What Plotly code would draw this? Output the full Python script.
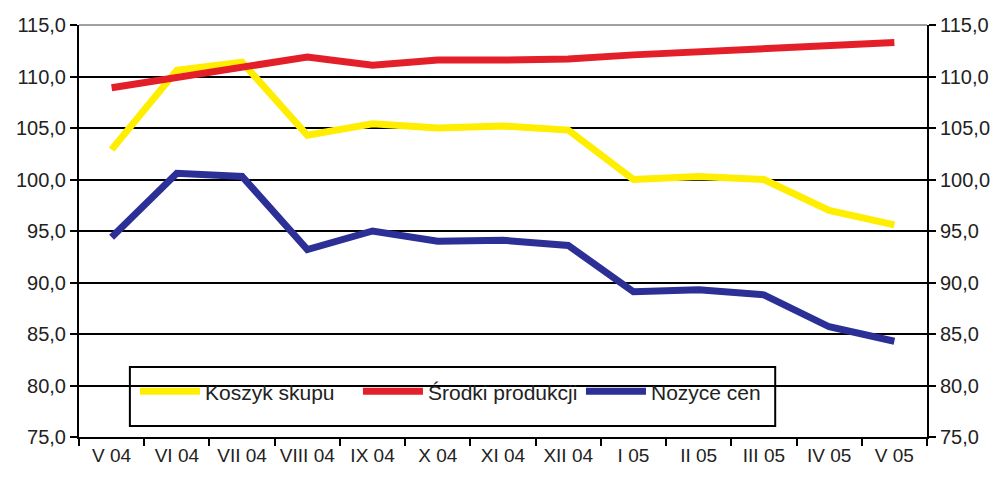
import plotly.graph_objects as go

months = ["V 04", "VI 04", "VII 04", "VIII 04", "IX 04", "X 04", "XI 04",
          "XII 04", "I 05", "II 05", "III 05", "IV 05", "V 05"]
koszyk_skupu = [102.9, 110.6, 111.4, 104.3, 105.4, 105.0, 105.2, 104.8,
                100.0, 100.3, 100.0, 97.0, 95.6]
srodki_produkcji = [108.9, 109.9, 111.0, 111.9, 111.1, 111.6, 111.6, 111.7,
                    112.1, 112.4, 112.6, 113.0, 113.3]
nozyce_cen = [94.4, 100.6, 100.3, 93.2, 95.0, 94.0, 94.1, 93.6,
              89.1, 89.3, 88.8, 85.7, 84.3]

series = [
    ("Koszyk skupu", koszyk_skupu, "#ffee00"),
    ("Środki produkcji", srodki_produkcji, "#e3202a"),
    ("Nozyce cen", nozyce_cen, "#2b2f96"),
]

fig = go.Figure()
for name, vals, col in series:
    fig.add_trace(go.Scatter(x=months, y=vals, name=name, mode="lines",
                             line=dict(color=col, width=7)))
# invisible trace to carry the right-hand axis
fig.add_trace(go.Scatter(x=months, y=srodki_produkcji, yaxis="y2", mode="lines",
                         line=dict(color="rgba(0,0,0,0)"), showlegend=False,
                         hoverinfo="skip"))

font = dict(family="Liberation Sans, Arial, sans-serif", size=20, color="#222")
xfont = dict(family="Liberation Sans, Arial, sans-serif", size=19, color="#222")
lfont = dict(family="Liberation Sans, Arial, sans-serif", size=21, color="#222")
yax = dict(range=[75, 115], dtick=5, tickformat=".1f", showline=True,
           linecolor="black", linewidth=2, ticks="outside", ticklen=7,
           tickcolor="black", tickwidth=2, tickfont=font, zeroline=False,
           automargin=False)
fig.update_layout(
    width=995, height=472,
    margin=dict(l=71, r=76, t=17, b=43),
    paper_bgcolor="white", plot_bgcolor="white",
    separators=", ",
    font=font,
    xaxis=dict(type="category", tickson="boundaries", ticks="outside",
               ticklen=7, tickcolor="black", tickwidth=2, showline=True,
               linecolor="black", linewidth=2, showgrid=False, tickangle=0,
               tickfont=xfont, range=[-0.5, 12.5], automargin=False),
    yaxis=dict(**yax, showgrid=True, gridcolor="black", gridwidth=2),
    yaxis2=dict(**yax, overlaying="y", side="right", matches="y", showgrid=False),
    legend=dict(orientation="h", x=0.066, y=0.11, xanchor="left", yanchor="middle",
                borderwidth=0, bgcolor="rgba(0,0,0,0)",
                font=lfont, itemwidth=60, entrywidth=148, entrywidthmode="pixels"),
    showlegend=True,
    shapes=[
        dict(type="rect", xref="paper", yref="paper", x0=0.060, x1=0.821,
             y0=0.027, y1=0.170, line=dict(color="black", width=2),
             fillcolor="white", layer="between"),
        dict(type="line", xref="paper", yref="paper", x0=0, x1=1, y0=1, y1=1,
             line=dict(color="#a0a0a0", width=2)),
    ],
)
fig.write_html("out.html")
